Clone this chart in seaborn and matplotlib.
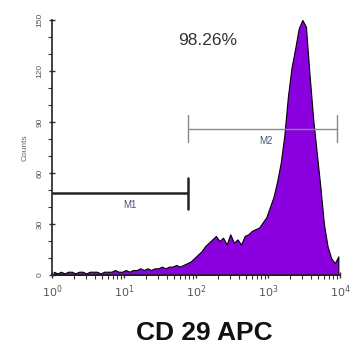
import numpy as np
import pandas as pd
import matplotlib
matplotlib.use("Agg")
import matplotlib.pyplot as plt
import seaborn as sns
from matplotlib import font_manager

# ---- data ----
# 80 log-spaced channels from 10^0 to 10^4 (0.05 decade each)
counts = [
    2, 1, 2, 1, 2, 2, 1, 2, 2, 1,
    2, 2, 2, 1, 2, 2, 2, 3, 2, 2,
    3, 2, 3, 3, 4, 3, 4, 3, 4, 4,
    5, 4, 5, 5, 6, 5, 6, 7, 8, 10,
    12, 14, 17, 19, 21, 23, 20, 22, 18, 24,
    19, 21, 18, 23, 24, 26, 27, 28, 31, 34,
    40, 46, 55, 66, 82, 105, 122, 133, 145, 150,
    146, 118, 92, 72, 52, 30, 17, 10, 7, 11,
]
log_low, log_high = 0, 4
gate_names = ["M1", "M2"]
gate_start = [1, 77]
gate_end = [77, 9100]
gate_level = [48, 86]
gate_label_x = [12, 940]
gate_label_y = [41, 79]
percent_text = "98.26%"
x_label = "CD 29 APC"
y_label = "Counts"
y_ticks = [0, 30, 60, 90, 120, 150]
x_ticks = [1, 10, 100, 1000, 10000]
x_ticklabels = ["$10^0$", "$10^1$", "$10^2$", "$10^3$", "$10^4$"]

n = len(counts)
width = (log_high - log_low) / n
centers_log = [log_low + width * (i + 0.5) for i in range(n)]
df = pd.DataFrame({"value": [10 ** c for c in centers_log], "count": counts})

names = {f.name for f in font_manager.fontManager.ttflist}
narrow = "Liberation Sans Narrow" if "Liberation Sans Narrow" in names else "Liberation Sans"

sns.set_style("ticks")
plt.rcParams["font.family"] = ["Liberation Sans", "DejaVu Sans"]

fig = plt.figure(figsize=(3.58, 3.62), dpi=100)
ax = fig.add_axes([0.145, 0.240, 0.805, 0.705])

sns.histplot(data=df, x="value", weights="count", bins=n, binrange=(log_low, log_high),
             log_scale=True, element="poly", fill=True, color="#8A00DE",
             edgecolor="black", linewidth=0.8, alpha=1.0, ax=ax)
for coll in ax.collections:
    coll.set_facecolor("#8A00DE")
    coll.set_alpha(1.0)

ax.set_xlim(1, 10 ** 4)
ax.set_ylim(0, 150)

# gates
gate_colors = ["#222222", "#888888"]
gate_lw = [1.8, 1.0]
gate_half = [9, 8]
for name, s, e, lv, lx, ly, c, lw, h in zip(gate_names, gate_start, gate_end, gate_level,
                                             gate_label_x, gate_label_y, gate_colors, gate_lw, gate_half):
    ax.plot([s, e], [lv, lv], color=c, lw=lw, solid_capstyle="butt")
    ax.plot([e, e], [lv - h, lv + h], color=c, lw=lw)
    if name == "M2":
        ax.plot([s, s], [lv - h, lv + h], color=c, lw=lw)
    ax.text(lx, ly, name, fontsize=7, color="#445577", ha="center", va="center")

ax.text(0.54, 0.92, percent_text, transform=ax.transAxes, fontsize=12.5,
        color="#333333", ha="center", va="center")

sns.despine(ax=ax)
ax.set_yticks(y_ticks)
ax.set_yticklabels([str(v) for v in y_ticks], rotation=90, va="center", fontsize=6, color="#555555")
ax.set_xticks(x_ticks)
ax.set_xticklabels(x_ticklabels, fontsize=8, color="#444444")
ax.yaxis.set_minor_locator(matplotlib.ticker.MultipleLocator(10))
ax.tick_params(axis="both", which="major", direction="inout", length=5, width=1, colors="#333333", labelcolor="#555555")
ax.tick_params(axis="both", which="minor", direction="out", length=3, width=0.8, colors="#333333")
for sp in ax.spines.values():
    sp.set_linewidth(1.2)
    sp.set_color("#222222")

ax.set_ylabel(y_label, fontsize=6, color="#666666", labelpad=6)
ax.set_xlabel("")
fig.text(0.57, 0.08, x_label, fontsize=19, fontweight="bold", ha="center", va="center",
         family=[narrow, "DejaVu Sans"], color="#111111")

fig.savefig("out.png", dpi=100)
